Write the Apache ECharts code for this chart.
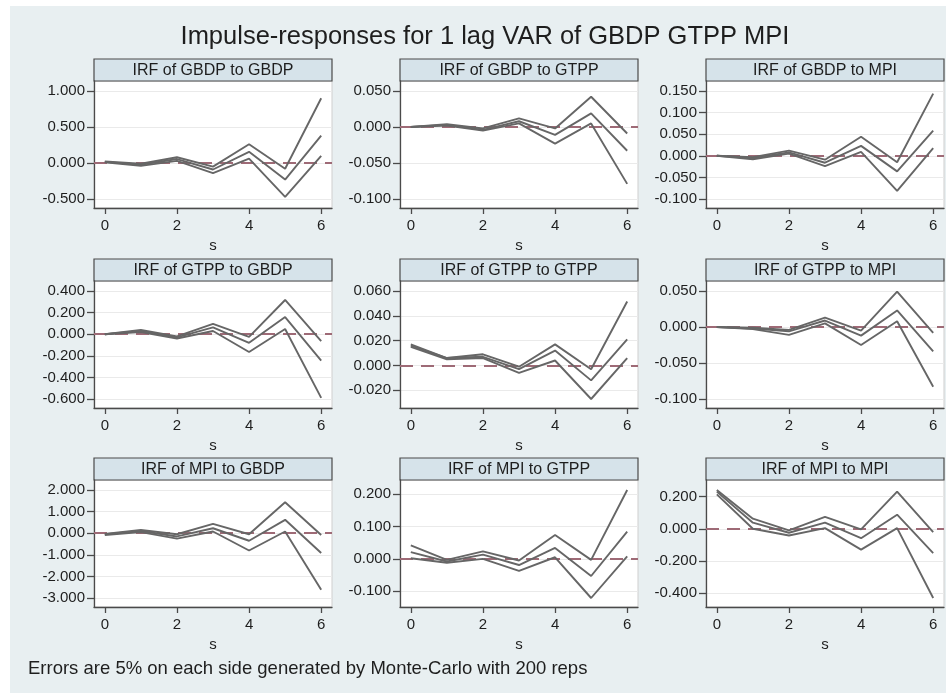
<!DOCTYPE html>
<html>
<head>
<meta charset="utf-8">
<script src="https://cdn.jsdelivr.net/npm/echarts@6/dist/echarts.min.js"></script>
<style>
html, body { margin: 0; padding: 0; background: #fff; }
#wrap { position: relative; width: 946px; height: 693px; }
#bg { position: absolute; left: 10px; top: 6px; right: 0; bottom: 0; background: #e8eff1; }
#chart { position: absolute; left: 0; top: 0; width: 946px; height: 693px; }
</style>
</head>
<body>
<div id="wrap"><div id="bg"></div><div id="chart"></div></div>
<script>
// steps of the impulse response
var steps = [0, 1, 2, 3, 4, 5, 6];
var xTicks = [0, 2, 4, 6];

var panelTitles = [
    'IRF of GBDP to GBDP', 'IRF of GBDP to GTPP', 'IRF of GBDP to MPI',
    'IRF of GTPP to GBDP', 'IRF of GTPP to GTPP', 'IRF of GTPP to MPI',
    'IRF of MPI to GBDP', 'IRF of MPI to GTPP', 'IRF of MPI to MPI'
];

// lower band, irf, upper band
var gbdpGbdpLow = [0.01, -0.04, 0.03, -0.14, 0.06, -0.47, 0.10];
var gbdpGbdpIrf = [0.015, -0.025, 0.055, -0.09, 0.155, -0.23, 0.38];
var gbdpGbdpUp  = [0.02, -0.01, 0.08, -0.05, 0.26, -0.08, 0.90];

var gbdpGtppLow = [0, 0.002, -0.005, 0.005, -0.023, 0.005, -0.079];
var gbdpGtppIrf = [0, 0.003, -0.004, 0.008, -0.011, 0.019, -0.033];
var gbdpGtppUp  = [0, 0.004, -0.002, 0.012, -0.002, 0.042, -0.009];

var gbdpMpiLow = [0, -0.008, 0.005, -0.024, 0.009, -0.081, 0.018];
var gbdpMpiIrf = [0, -0.005, 0.008, -0.016, 0.023, -0.036, 0.058];
var gbdpMpiUp  = [0, -0.003, 0.012, -0.009, 0.044, -0.015, 0.144];

var gtppGbdpLow = [0, 0.02, -0.04, 0.03, -0.165, 0.048, -0.59];
var gtppGbdpIrf = [0, 0.03, -0.03, 0.063, -0.08, 0.159, -0.244];
var gtppGbdpUp  = [0, 0.04, -0.02, 0.095, -0.025, 0.317, -0.063];

var gtppGtppLow = [0.015, 0.005, 0.006, -0.006, 0.004, -0.027, 0.006];
var gtppGtppIrf = [0.016, 0.006, 0.007, -0.003, 0.012, -0.012, 0.021];
var gtppGtppUp  = [0.017, 0.006, 0.009, -0.001, 0.017, -0.003, 0.0515];

var gtppMpiLow = [0, -0.003, -0.011, 0.005, -0.025, 0.008, -0.083];
var gtppMpiIrf = [0, -0.002, -0.006, 0.009, -0.012, 0.023, -0.034];
var gtppMpiUp  = [0, -0.001, -0.004, 0.013, -0.005, 0.049, -0.008];

var mpiGbdpLow = [-0.08, 0.05, -0.25, 0.08, -0.8, 0.08, -2.62];
var mpiGbdpIrf = [-0.05, 0.1, -0.15, 0.23, -0.35, 0.62, -0.92];
var mpiGbdpUp  = [-0.03, 0.15, -0.05, 0.43, -0.05, 1.43, -0.08];

var mpiGtppLow = [0.002, -0.012, 0.0, -0.037, 0.005, -0.121, 0.008];
var mpiGtppIrf = [0.021, -0.008, 0.013, -0.019, 0.034, -0.053, 0.084];
var mpiGtppUp  = [0.042, -0.003, 0.023, -0.005, 0.074, -0.003, 0.213];

var mpiMpiLow = [0.215, 0.0, -0.042, 0.004, -0.13, 0.004, -0.432];
var mpiMpiIrf = [0.232, 0.038, -0.025, 0.038, -0.059, 0.088, -0.152];
var mpiMpiUp  = [0.242, 0.063, -0.01, 0.074, -0.004, 0.232, -0.021];

// y tick labels per panel
var yTicks1 = [-0.5, 0, 0.5, 1.0];
var yTicks2 = [-0.1, -0.05, 0, 0.05];
var yTicks3 = [-0.1, -0.05, 0, 0.05, 0.1, 0.15];
var yTicks4 = [-0.6, -0.4, -0.2, 0, 0.2, 0.4];
var yTicks5 = [-0.02, 0, 0.02, 0.04, 0.06];
var yTicks6 = [-0.1, -0.05, 0, 0.05];
var yTicks7 = [-3, -2, -1, 0, 1, 2];
var yTicks8 = [-0.1, 0, 0.1, 0.2];
var yTicks9 = [-0.4, -0.2, 0, 0.2];

var panels = [
    [gbdpGbdpLow, gbdpGbdpIrf, gbdpGbdpUp, yTicks1],
    [gbdpGtppLow, gbdpGtppIrf, gbdpGtppUp, yTicks2],
    [gbdpMpiLow, gbdpMpiIrf, gbdpMpiUp, yTicks3],
    [gtppGbdpLow, gtppGbdpIrf, gtppGbdpUp, yTicks4],
    [gtppGtppLow, gtppGtppIrf, gtppGtppUp, yTicks5],
    [gtppMpiLow, gtppMpiIrf, gtppMpiUp, yTicks6],
    [mpiGbdpLow, mpiGbdpIrf, mpiGbdpUp, yTicks7],
    [mpiGtppLow, mpiGtppIrf, mpiGtppUp, yTicks8],
    [mpiMpiLow, mpiMpiIrf, mpiMpiUp, yTicks9]
];

// layout
var colLeft = [94, 400, 706];
var rowTop = [59, 259, 458];
var headH = 22, plotW = 238, plotH = 127;
var font = "'Liberation Sans', Arial, sans-serif";
var lineColor = '#666', zeroColor = '#9e6a76', axisColor = '#4a4a4a', textColor = '#1e1e1e';

function yRange(p) {
    var all = p[3].concat(p[0], p[1], p[2]);
    var lo = Math.min.apply(null, all), hi = Math.max.apply(null, all);
    var k = (hi - lo) / (plotH - 19);
    return [lo - 9 * k, hi + 10 * k];
}

function pairs(vals) {
    return steps.map(function (s, i) { return [s, vals[i]]; });
}

var grids = [], xAxes = [], yAxes = [], series = [], graphics = [];

panels.forEach(function (p, i) {
    var r = Math.floor(i / 3), c = i % 3;
    var left = colLeft[c], top = rowTop[r] + headH;
    grids.push({left: left, top: top, width: plotW, height: plotH, show: true,
        backgroundColor: '#fff', borderColor: '#cfcfcf', borderWidth: 1});
    xAxes.push({type: 'value', gridIndex: i, min: -0.3, max: 6.3,
        name: 's', nameLocation: 'middle', nameGap: 30,
        nameTextStyle: {fontSize: 15, color: textColor, fontFamily: font},
        axisLine: {show: true, onZero: false, lineStyle: {color: axisColor, width: 1.3}},
        axisTick: {show: true, length: 6, customValues: xTicks, lineStyle: {color: axisColor, width: 1.3}},
        axisLabel: {customValues: xTicks, margin: 10, fontSize: 15, color: textColor, fontFamily: font},
        splitLine: {show: false}
    });
    var yr = yRange(p);
    yAxes.push({type: 'value', gridIndex: i, min: yr[0], max: yr[1],
        axisLine: {show: true, onZero: false, lineStyle: {color: axisColor, width: 1.3}},
        axisTick: {show: true, length: 7, customValues: p[3], lineStyle: {color: axisColor, width: 1.3}},
        axisLabel: {customValues: p[3], margin: 9, fontSize: 15, color: textColor, fontFamily: font,
            formatter: function (v) { return (+v).toFixed(3); }},
        splitLine: {show: true, lineStyle: {color: '#eaeaea', width: 1}}
    });
    for (var k = 0; k < 3; k++) {
        var s = {type: 'line', xAxisIndex: i, yAxisIndex: i, data: pairs(p[k]),
            symbol: 'none', lineStyle: {color: lineColor, width: 1.9}, z: 3};
        if (k == 1) {
            s.markLine = {silent: true, symbol: 'none', label: {show: false},
                lineStyle: {color: zeroColor, type: [13, 8], width: 1.8},
                data: [{yAxis: 0}], z: 2};
        }
        series.push(s);
    }
    graphics.push({type: 'group', children: [
        {type: 'rect', shape: {x: left, y: rowTop[r], width: plotW, height: headH},
            style: {fill: '#d6e3ea', stroke: '#4a4a4a', lineWidth: 1.2}},
        {type: 'text', x: left + plotW / 2, y: rowTop[r] + headH / 2 + 1,
            style: {text: panelTitles[i], fill: textColor, font: '16px ' + font,
                textAlign: 'center', textVerticalAlign: 'middle'}}
    ]});
});

graphics.push({type: 'text', left: 28, top: 659,
    style: {text: 'Errors are 5% on each side generated by Monte-Carlo with 200 reps',
        fill: textColor, font: '18.5px ' + font}});

var chart = echarts.init(document.getElementById('chart'));
chart.setOption({
    animation: false,
    title: {text: 'Impulse-responses for 1 lag VAR of GBDP GTPP MPI', left: 485, top: 24,
        textAlign: 'center', padding: 0,
        textStyle: {fontSize: 25.5, fontWeight: 'normal', color: textColor, fontFamily: font}},
    grid: grids,
    xAxis: xAxes,
    yAxis: yAxes,
    series: series,
    graphic: graphics
});
</script>
</body>
</html>
